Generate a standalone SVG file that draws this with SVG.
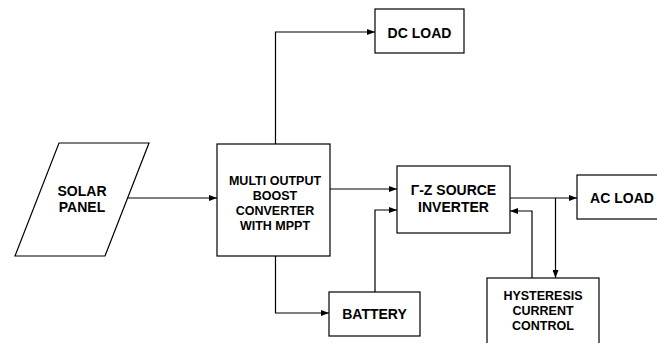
<svg xmlns="http://www.w3.org/2000/svg" width="657" height="343" viewBox="0 0 657 343">
<defs>
<style>
.box{fill:#fff;stroke:#000;stroke-width:1.2}
.ln{fill:none;stroke:#000;stroke-width:1.2}
.t{font-family:"Liberation Sans",Arial,sans-serif;font-weight:bold;font-size:14px;text-anchor:middle;fill:#000}
.s{font-size:12.5px}
</style>
<marker id="ah" viewBox="0 0 8 6" refX="8" refY="3" markerWidth="8" markerHeight="6" markerUnits="userSpaceOnUse" orient="auto">
<path d="M0,0 L8,3 L0,6 Z" fill="#000"/>
</marker>
</defs>
<rect width="657" height="343" fill="#fff"/>
<g id="connectors">
<path class="ln" d="M128,198 H217" marker-end="url(#ah)"/>
<path class="ln" d="M275.5,144 V32 H375" marker-end="url(#ah)"/>
<path class="ln" d="M275.5,256 V313 H329" marker-end="url(#ah)"/>
<path class="ln" d="M330,189 H397" marker-end="url(#ah)"/>
<path class="ln" d="M375,292 V210 H397" marker-end="url(#ah)"/>
<path class="ln" d="M510,198 H577" marker-end="url(#ah)"/>
<path class="ln" d="M555.5,198 V278" marker-end="url(#ah)"/>
<path class="ln" d="M532,278 V211 H510" marker-end="url(#ah)"/>
</g>
<g id="solar">
<polygon class="box" points="59,143 149,143 105,256 15,256"/>
<text class="t" x="82" y="196">SOLAR</text>
<text class="t" x="82" y="211.5">PANEL</text>
</g>
<g id="boost">
<rect class="box" x="217" y="144" width="113" height="112"/>
<text class="t s" x="275" y="185">MULTI OUTPUT</text>
<text class="t s" x="275" y="200">BOOST</text>
<text class="t s" x="275" y="215">CONVERTER</text>
<text class="t s" x="275" y="229.5">WITH MPPT</text>
</g>
<g id="dcload">
<rect class="box" x="375" y="9" width="89" height="44"/>
<text class="t" x="419.5" y="38">DC LOAD</text>
</g>
<g id="inverter">
<rect class="box" x="397" y="166" width="113" height="67"/>
<text class="t" x="453.5" y="195">Γ-Z SOURCE</text>
<text class="t" x="453.5" y="211.5">INVERTER</text>
</g>
<g id="acload">
<rect class="box" x="577" y="175" width="90" height="44"/>
<text class="t" x="622" y="203">AC LOAD</text>
</g>
<g id="battery">
<rect class="box" x="329" y="292" width="91" height="44"/>
<text class="t" x="374.5" y="319">BATTERY</text>
</g>
<g id="hysteresis">
<rect class="box" x="487" y="278" width="112" height="75"/>
<text class="t s" x="543" y="300">HYSTERESIS</text>
<text class="t s" x="543" y="315">CURRENT</text>
<text class="t s" x="543" y="330">CONTROL</text>
</g>
</svg>
